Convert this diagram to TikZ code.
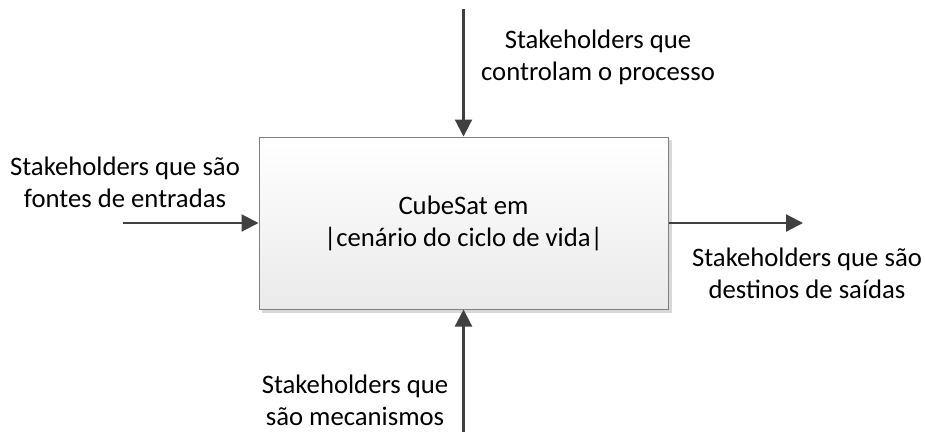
\documentclass[tikz,border=0pt]{standalone}
\usepackage{fontspec}
\setmainfont{Carlito}
\usetikzlibrary{arrows.meta}
\definecolor{linegray}{HTML}{404040}
\definecolor{boxborder}{HTML}{808080}
\definecolor{boxbottom}{HTML}{EAEAEA}
\definecolor{shadowgray}{HTML}{D8D8D8}
\tikzset{
  conn/.style={draw=linegray, line width=2.2pt, -{Triangle[length=17pt,width=17pt]}},
  lbl/.style={align=center, font=\fontsize{26.7}{32}\selectfont, inner sep=0pt},
  procbox/.style={draw=boxborder, line width=1pt, top color=white, bottom color=boxbottom,
    minimum width=409pt, minimum height=172pt, inner sep=0pt, align=center,
    font=\fontsize{26.7}{32}\selectfont}
}
\begin{document}
\begin{tikzpicture}[x=1pt,y=-1pt]
\useasboundingbox (0,0) rectangle (925,432);
% shadow
\fill[shadowgray] (262,140) rectangle (672,313);
\node[procbox] (box) at (463.5,223) {CubeSat em\\|cenário do ciclo de vida|};
\coordinate (inL) at (123,223);
\coordinate (outR) at (803,223);
\coordinate (ctlT) at (463.5,9);
\coordinate (mecB) at (463.5,432);
\draw[conn] (inL) -- (box.west);
\draw[conn] (box.east) -- (outR);
\draw[conn] (ctlT) -- (box.north);
\draw[conn] (mecB) -- (box.south);
\node[lbl] (tin) at (125,182) {Stakeholders que são\\fontes de entradas};
\node[lbl] (tctl) at (598,57) {Stakeholders que\\controlam o processo};
\node[lbl] (tout) at (807,273) {Stakeholders que são\\destinos de saídas};
\node[lbl] (tmec) at (355,400) {Stakeholders que\\são mecanismos};
\end{tikzpicture}
\end{document}
